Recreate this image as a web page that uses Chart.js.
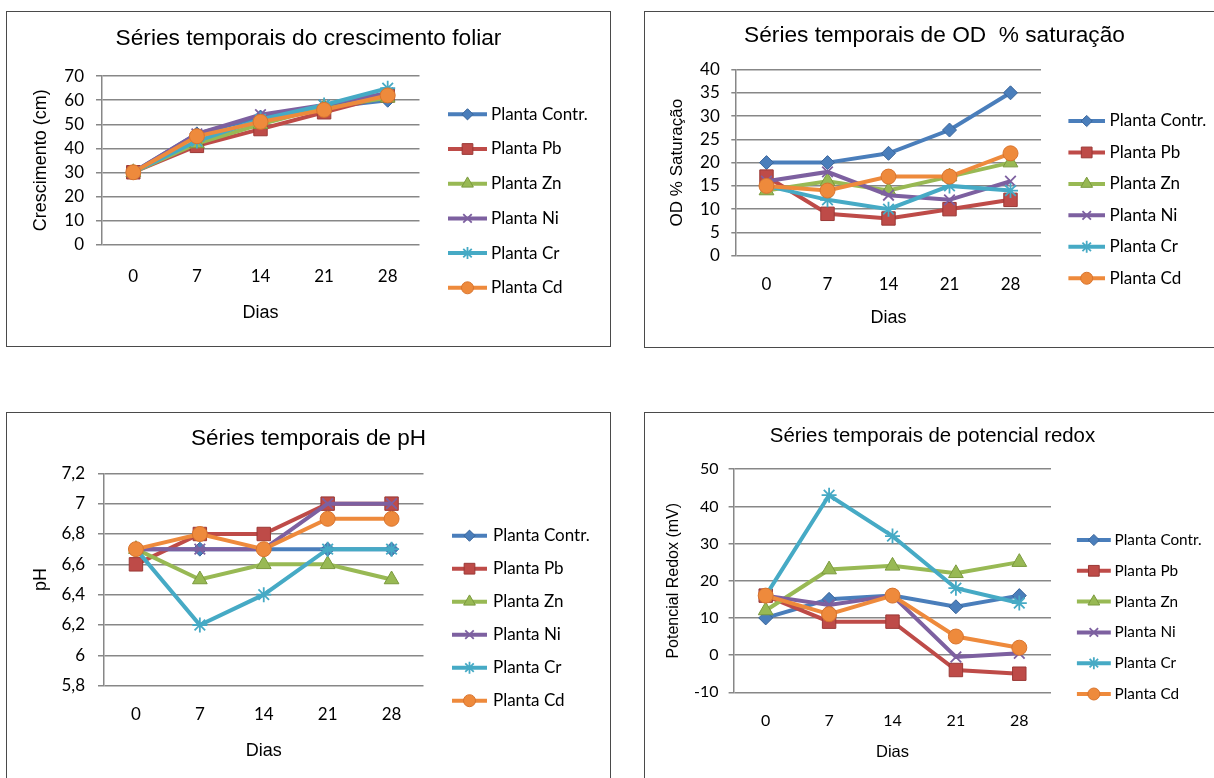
<!DOCTYPE html>
<html>
<head>
<meta charset="utf-8">
<script src="https://cdn.jsdelivr.net/npm/chart.js@4/dist/chart.umd.min.js"></script>
<style>
  body { margin: 0; background: #fff; width: 1214px; height: 778px; overflow: hidden; position: relative; }
  .painel { position: absolute; border: 1px solid #4a4a4a; background: #fff; }
  canvas { display: block; }
</style>
</head>
<body>
<div class="painel" style="left:6px; top:11px;"><canvas id="g1" width="603" height="334"></canvas></div>
<div class="painel" style="left:644px; top:11px;"><canvas id="g2" width="579" height="335"></canvas></div>
<div class="painel" style="left:6px; top:412px;"><canvas id="g3" width="603" height="380"></canvas></div>
<div class="painel" style="left:644px; top:412px;"><canvas id="g4" width="575" height="380"></canvas></div>

<script>
// === DADOS ===
const dias = ["0", "7", "14", "21", "28"];
const plantas = ["Planta Contr.", "Planta Pb", "Planta Zn", "Planta Ni", "Planta Cr", "Planta Cd"];

// uma linha por planta, na mesma ordem de "plantas"
const crescimento = [
  [30, 46, 53, 57, 60],
  [30, 41, 48, 55, 62],
  [30, 42, 50, 57, 61],
  [30, 46, 54, 58, 63],
  [30, 43, 52, 58, 65],
  [30, 45, 51, 56, 62]
];
const odSaturacao = [
  [20, 20, 22, 27, 35],
  [17, 9, 8, 10, 12],
  [14, 16, 14, 17, 20],
  [16, 18, 13, 12, 16],
  [15, 12, 10, 15, 14],
  [15, 14, 17, 17, 22]
];
const phValores = [
  [6.7, 6.7, 6.7, 6.7, 6.7],
  [6.6, 6.8, 6.8, 7.0, 7.0],
  [6.7, 6.5, 6.6, 6.6, 6.5],
  [6.7, 6.7, 6.7, 7.0, 7.0],
  [6.7, 6.2, 6.4, 6.7, 6.7],
  [6.7, 6.8, 6.7, 6.9, 6.9]
];
const redox = [
  [10, 15, 16, 13, 16],
  [16, 9, 9, -4, -5],
  [12, 23, 24, 22, 25],
  [16, 13.5, 16, -0.5, 0.5],
  [16, 43, 32, 18, 14],
  [16, 11, 16, 5, 2]
];

// marcas dos eixos Y
const ticksCrescimento = [0, 10, 20, 30, 40, 50, 60, 70];
const ticksOD = [0, 5, 10, 15, 20, 25, 30, 35, 40];
const ticksPH = [5.8, 6.0, 6.2, 6.4, 6.6, 6.8, 7.0, 7.2];
const ticksRedox = [-10, 0, 10, 20, 30, 40, 50];

// === ESTILO ===
const cores = ["#4A7EBB", "#BE4B48", "#98B954", "#7D60A0", "#46AAC5", "#EE8A3C"];
const bordas = ["#3A659A", "#9B3936", "#7B9A3E", "#7D60A0", "#46AAC5", "#D8742E"];
const marcadores = ["rectRot", "rect", "triangle", "crossRot", "star", "circle"];
const raios = [7, 9.5, 8.5, 7.5, 7.5, 7.5];
const bordaMarcador = [1, 1, 1, 1.8, 1.8, 1];

// desenha a legenda do lado direito (linha + marcador + texto)
const legendaLateral = {
  id: "legendaLateral",
  afterDraw(chart, args, opts) {
    const ctx = chart.ctx;
    ctx.save();
    chart.data.datasets.forEach((ds, i) => {
      const y = opts.y0 + i * opts.dy;
      ctx.strokeStyle = ds.borderColor;
      ctx.lineWidth = ds.borderWidth;
      ctx.beginPath();
      ctx.moveTo(opts.x0, y);
      ctx.lineTo(opts.x1, y);
      ctx.stroke();

      ctx.fillStyle = ds.pointBackgroundColor;
      ctx.strokeStyle = ds.pointBorderColor;
      ctx.lineWidth = ds.pointBorderWidth;
      Chart.helpers.drawPoint(ctx, {
        pointStyle: ds.pointStyle, rotation: 0,
        radius: ds.pointRadius * 0.8, borderWidth: ds.pointBorderWidth
      }, (opts.x0 + opts.x1) / 2, y);

      ctx.fillStyle = "#000";
      ctx.font = opts.size + "px Lato";
      ctx.textAlign = "left";
      ctx.textBaseline = "middle";
      ctx.fillText(ds.label, opts.tx, y);
    });
    ctx.restore();
  }
};

function virgula(v) {
  return String(Math.round(v * 10) / 10).replace(".", ",");
}

function criarGrafico(id, titulo, linhas, marcas, geo) {
  const datasets = plantas.map((nome, i) => ({
    label: nome,
    data: linhas[i],
    borderColor: cores[i],
    backgroundColor: cores[i],
    pointBackgroundColor: cores[i],
    pointBorderColor: bordas[i],
    pointBorderWidth: bordaMarcador[i],
    pointStyle: marcadores[i],
    pointRadius: raios[i],
    borderWidth: 4,
    tension: 0,
    clip: false,
    order: plantas.length - 1 - i
  }));

  new Chart(document.getElementById(id), {
    type: "line",
    data: { labels: dias, datasets: datasets },
    options: {
      responsive: false,
      animation: false,
      devicePixelRatio: 1,
      layout: { padding: 0 },
      plugins: {
        legend: { display: false },
        tooltip: { enabled: false },
        title: {
          display: true,
          text: titulo,
          color: "#000",
          font: { family: "Liberation Sans", size: geo.titleSize, weight: "normal" },
          padding: { top: geo.titlePad[0], bottom: geo.titlePad[1] }
        },
        legendaLateral: geo.leg
      },
      scales: {
        x: {
          type: "category",
          offset: true,
          grid: { display: false, drawTicks: false },
          border: { display: false },
          ticks: {
            color: "#000", autoSkip: false, maxRotation: 0,
            font: { family: "Lato", size: geo.tickSize },
            padding: geo.xTickPad
          },
          title: {
            display: true, text: "Dias", color: "#000",
            font: { family: "Liberation Sans", size: geo.xTitleSize },
            padding: { top: 0, bottom: geo.xTitlePad }
          },
          afterFit: (s) => { s.height = geo.xH; }
        },
        y: {
          min: marcas[0],
          max: marcas[marcas.length - 1],
          grid: { color: "#878787", lineWidth: 1.5, drawTicks: true, tickLength: geo.yTickLen },
          border: { display: true, color: "#878787", width: 1.5 },
          ticks: {
            stepSize: marcas[1] - marcas[0],
            autoSkip: false,
            color: "#000",
            font: { family: "Lato", size: geo.tickSize },
            padding: geo.yTickPad,
            callback: (v) => virgula(v)
          },
          title: {
            display: true, text: geo.yTitle, color: "#000",
            font: { family: "Liberation Sans", size: geo.yTitleSize },
            padding: { top: geo.yTitlePad, bottom: 0 }
          },
          afterFit: (s) => { s.width = geo.yW; }
        },
        lado: {
          position: "right",
          display: true,
          grid: { display: false, drawTicks: false },
          border: { display: false },
          ticks: { display: false },
          afterFit: (s) => { s.width = geo.rightW; }
        }
      }
    },
    plugins: [legendaLateral]
  });
}

// === GRÁFICOS ===
criarGrafico("g1", "Séries temporais do crescimento foliar", crescimento, ticksCrescimento, {
  yW: 94.5, rightW: 190.5, xH: 101.7,
  titleSize: 22.7, titlePad: [12.8, 24.2],
  tickSize: 17, xTickPad: 22.2, yTickLen: 5.5, yTickPad: 12,
  yTitle: "Crescimento (cm)", yTitleSize: 18, yTitlePad: 23.2,
  xTitleSize: 18, xTitlePad: 21.9,
  leg: { x0: 441, x1: 480, tx: 484, y0: 102.3, dy: 34.7, size: 17 }
});

criarGrafico("g2", "Séries temporais de OD  % saturação", odSaturacao, ticksOD, {
  yW: 91, rightW: 183, xH: 91.3,
  titleSize: 22.7, titlePad: [10.2, 20.1],
  tickSize: 17, xTickPad: 19.1, yTickLen: 4.7, yTickPad: 11.5,
  yTitle: "OD % Saturação", yTitleSize: 17, yTitlePad: 22.2,
  xTitleSize: 18, xTitlePad: 17.9,
  leg: { x0: 423.4, x1: 460, tx: 464.6, y0: 109, dy: 31.45, size: 17 }
});

criarGrafico("g3", "Séries temporais de pH", phValores, ticksPH, {
  yW: 97, rightW: 186.5, xH: 107.3,
  titleSize: 22.5, titlePad: [12.5, 20.8],
  tickSize: 17, xTickPad: 19.1, yTickLen: 6, yTickPad: 13,
  yTitle: "pH", yTitleSize: 18, yTitlePad: 23.2,
  xTitleSize: 18, xTitlePad: 31.5,
  leg: { x0: 445, x1: 480, tx: 486, y0: 122.7, dy: 33, size: 17 }
});

criarGrafico("g4", "Séries temporais de potencial redox", redox, ticksRedox, {
  yW: 89, rightW: 169, xH: 100.7,
  titleSize: 20.4, titlePad: [10.7, 21],
  tickSize: 16, xTickPad: 18.8, yTickLen: 5.4, yTickPad: 10,
  yTitle: "Potencial Redox (mV)", yTitleSize: 16, yTitlePad: 19,
  xTitleSize: 16.5, xTitlePad: 30.4,
  leg: { x0: 431.9, x1: 465.8, tx: 469.6, y0: 127, dy: 30.8, size: 15.3 }
});
</script>
</body>
</html>
